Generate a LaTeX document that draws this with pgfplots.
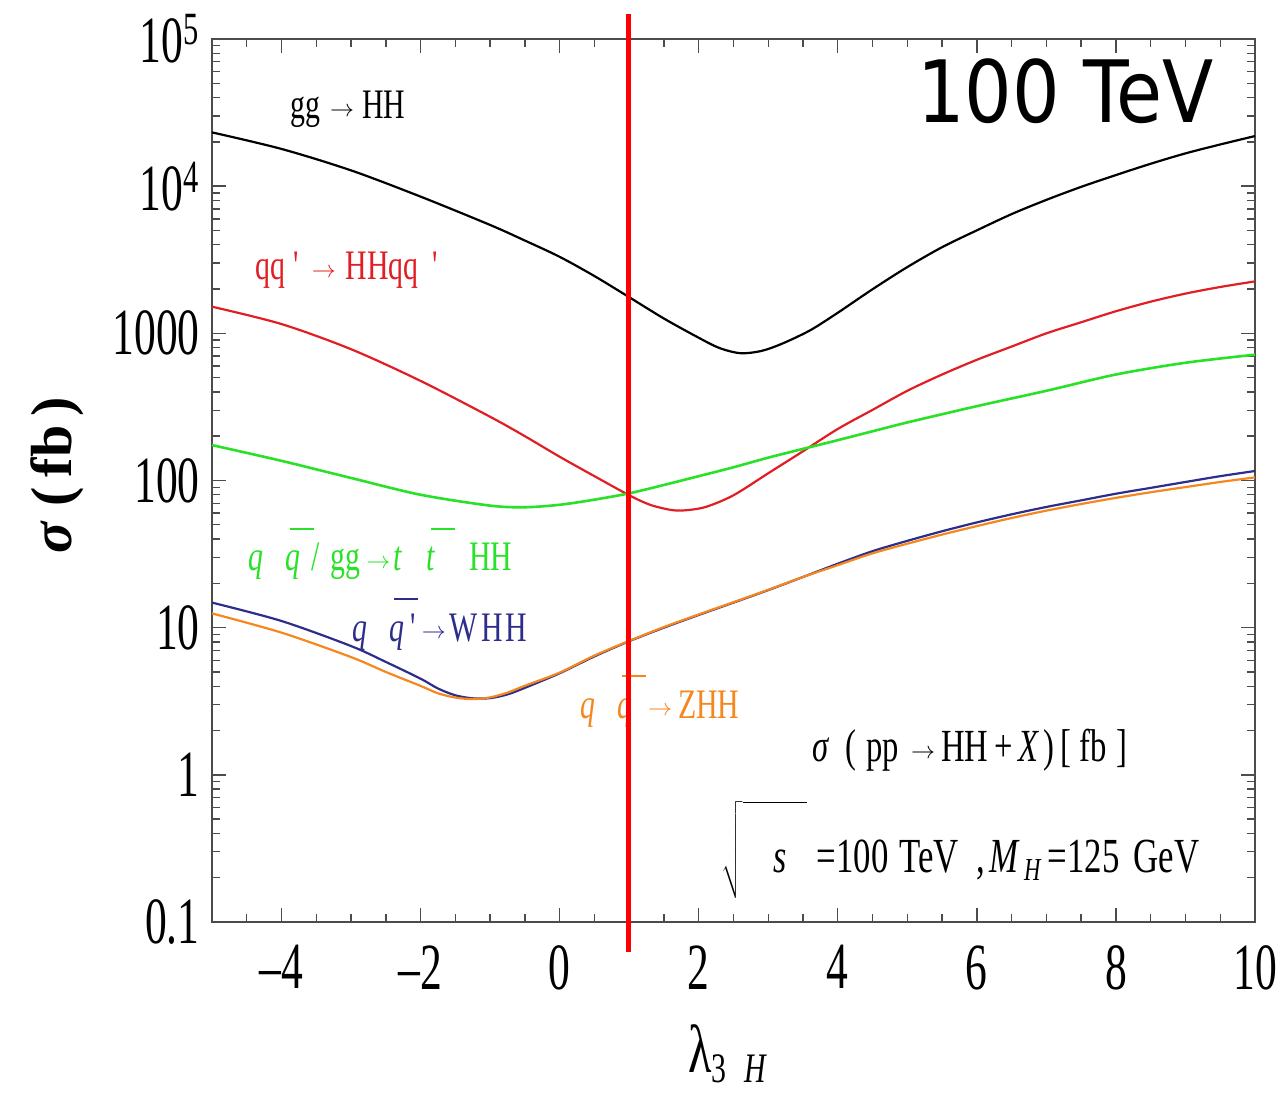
\documentclass[border=0pt]{standalone}
\usepackage{fontspec}
\usepackage{pgfplots}
\usepackage{pgfplotstable}
\pgfplotsset{compat=1.18}
\setmainfont{Liberation Serif}
\newfontfamily\tickfont[FakeStretch=0.66]{Liberation Serif}
\newfontfamily\labfont[FakeStretch=0.71]{Liberation Serif}
\newfontfamily\bigsans[FakeStretch=0.87]{DejaVu Sans}
\definecolor{cred}{RGB}{225,30,35}
\definecolor{cgreen}{RGB}{40,225,40}
\definecolor{cnavy}{RGB}{45,45,140}
\definecolor{corange}{RGB}{245,135,30}
\newcommand\tl[1]{\mbox{\tickfont\fontsize{33}{33}\selectfont #1}}
\newcommand\ob[1]{\leavevmode\rlap{\hspace{2.5pt}\raisebox{20.5pt}{\rule{12pt}{1.2pt}}}#1}
\newcommand\lf{\labfont\fontsize{21}{21}\selectfont}
\newcommand\ar{\raisebox{1.2pt}{\fontsize{12}{12}\selectfont$\rightarrow$}}

\pgfplotstableread{
x y
-5 23200
-4 17900
-3 12800
-2 8490
-1 5450
-0.5 4270
0 3310
0.5 2450
1 1760
1.5 1260
2 933
2.3 794
2.6 733
2.9 759
3.2 851
3.6 1047
4 1380
4.5 1995
5 2820
5.5 3850
6 5010
6.5 6460
7 8070
7.5 9890
8 11900
8.5 14200
9 16700
9.5 19200
10 21900
}\ggHH

\pgfplotstableread{
x y
-5 1517
-4 1156
-3 780
-2 475
-1 271
-0.5 200
0 145
0.5 107
1 79.4
1.3 68.4
1.6 63.1
1.8 62.7
2.1 66.1
2.5 79.4
3.0 112
3.5 158
4 224
4.5 302
5 407
5.5 525
6 661
6.5 813
7 1000
7.5 1189
8 1413
8.5 1641
9 1862
9.5 2065
10 2254
}\HHqq

\pgfplotstableread{
x y
-5 174
-4 136
-3 104
-2 80
-1 67.5
-0.5 65.8
0 68.4
0.5 74.1
1 81.8
1.5 93.3
2 107
2.5 123
3 143
3.5 164
4 188
4.5 216
5 248
6 320
7 407
8 525
9 631
10 716
}\ttHH

\pgfplotstableread{
x y
-5 14.8
-4 11.1
-3 7.50
-2.5 5.85
-2 4.50
-1.75 3.86
-1.5 3.47
-1.25 3.31
-1 3.32
-0.75 3.52
-0.5 3.90
0 4.90
0.5 6.38
1 8.09
1.5 10.0
2 12.2
2.5 14.8
3 18.0
3.5 22.1
4 27.2
4.5 33.1
5 38.9
5.5 45.2
6 51.9
6.5 58.9
7 66.1
7.5 73.3
8 81.3
8.5 89.1
9 97.7
9.5 107
10 116
}\WHH

\pgfplotstableread{
x y
-5 12.5
-4 9.25
-3 6.31
-2.5 5.0
-2 4.02
-1.75 3.58
-1.5 3.35
-1.25 3.27
-1 3.36
-0.75 3.62
-0.5 4.03
0 4.95
0.5 6.46
1 8.13
1.5 10.1
2 12.3
2.5 14.9
3 18.1
3.5 22.1
4 26.6
4.5 32.0
5 37.2
5.5 42.9
6 49.0
6.5 55.6
7 62.4
7.5 69.2
8 76.2
8.5 83.2
9 90.2
9.5 97.7
10 105
}\ZHH

\begin{document}
\begin{tikzpicture}
\begin{axis}[
  scale only axis, width=521.5pt, height=441.5pt,
  ymode=log, xmin=-5, xmax=10, ymin=0.1, ymax=100000,
  clip=false,
  axis line style={draw=black!70, line width=0.8pt},
  tick style={black!70, line width=0.7pt},
  major tick length=7pt, minor tick length=4pt,
  tick align=inside,
  xtick={-4,-2,0,2,4,6,8,10},
  xticklabels={\tl{–4},\tl{–2},\tl{0},\tl{2},\tl{4},\tl{6},\tl{8},\tl{10}},
  minor xtick={-4.5,-3.5,-3,-2.5,-1.5,-1,-0.5,0.5,1,1.5,2.5,3,3.5,4.5,5,5.5,6.5,7,7.5,8.5,9,9.5},
  ytick={0.1,1,10,100,1000,10000,100000},
  yticklabels={\tl{0.1},\tl{1},\tl{10},\tl{100},\tl{1000},\tl{10\textsuperscript{4}},\tl{10\textsuperscript{5}}},
  minor ytick={0.2,0.3,0.4,0.5,0.6,0.7,0.8,0.9,2,3,4,5,6,7,8,9,20,30,40,50,60,70,80,90,200,300,400,500,600,700,800,900,2000,3000,4000,5000,6000,7000,8000,9000,20000,30000,40000,50000,60000,70000,80000,90000},
  xticklabel style={inner sep=0pt, yshift=-11.5pt},
  yticklabel style={inner sep=0pt, xshift=-6pt},
]
\addplot[black, line width=1.1pt, smooth] table[x=x,y=y]{\ggHH};
\addplot[cred, line width=1.1pt, smooth] table[x=x,y=y]{\HHqq};
\addplot[cgreen, line width=1.3pt, smooth] table[x=x,y=y]{\ttHH};
\addplot[cnavy, line width=1.1pt, smooth] table[x=x,y=y]{\WHH};
\addplot[corange, line width=1.1pt, smooth] table[x=x,y=y]{\ZHH};

\node[anchor=base west, inner sep=0] at (rel axis cs:0.0748,0.9094) {\lf gg\hspace{5pt}\ar\hspace{4pt}HH};
\node[anchor=base west, inner sep=0, text=cred] at (rel axis cs:0.0412,0.7271) {\lf qq\hspace{4pt}\textquotesingle\hspace{5.5pt}\ar\hspace{5pt}HHqq\hspace{7pt}\textquotesingle};
\node[anchor=base west, inner sep=0, text=cgreen] at (rel axis cs:0.0345,0.3975) {\lf \textit{q}\hspace{11pt}\ob{\textit{q}}\hspace{5.5pt}/\hspace{5.5pt}gg\hspace{3pt}\ar\hspace{1.5pt}\textit{t}\hspace{12pt}\ob{\textit{t}}\hspace{17pt}HH};
\node[anchor=base west, inner sep=0, text=cnavy] at (rel axis cs:0.1342,0.3182) {\lf \textit{q}\hspace{11pt}\ob{\textit{q}}\hspace{3pt}\textquotesingle\hspace{2pt}\ar\hspace{2pt}W\hspace{2pt}H\hspace{1pt}H};
\node[anchor=base west, inner sep=0, text=corange] at (rel axis cs:0.3528,0.2310) {\lf \textit{q}\hspace{11pt}\ob{\textit{q}}\hspace{8pt}\ar\hspace{3pt}ZHH};
\node[anchor=base west, inner sep=0] at (rel axis cs:0.5753,0.1823) {\labfont\fontsize{23}{23}\selectfont \textit{σ}\hspace{8pt}(\hspace{5pt}pp\hspace{6pt}\ar\hspace{3pt}HH\hspace{3pt}+\hspace{3pt}\textit{X}\hspace{2pt})\hspace{3pt}[\hspace{4pt}fb\hspace{5pt}]};
\node[anchor=base west, inner sep=0] at (rel axis cs:0.4880,0.0555) {\labfont\fontsize{23}{23}\selectfont $\sqrt{\rule[-10pt]{0pt}{42pt}\hspace{15.5pt}\mbox{\labfont\fontsize{24}{24}\selectfont\itshape s}\hspace{10pt}}$\labfont\fontsize{24.5}{24.5}\selectfont\hspace{5pt}=100\hspace{5.5pt}TeV\hspace{9pt},\hspace{2pt}\textit{M}\hspace{2pt}\raisebox{-4pt}{\fontsize{16}{16}\selectfont\textit{H}}\hspace{3pt}=125\hspace{7pt}GeV};
\node[anchor=base west, inner sep=0] at (rel axis cs:0.6759,0.9049) {\bigsans\fontsize{43}{43}\selectfont 100 TeV};
\node[anchor=base west, inner sep=0] at (rel axis cs:0.4564,-0.170) {\labfont\fontsize{34}{34}\selectfont λ\raisebox{-5pt}{\fontsize{21}{21}\selectfont 3\hspace{9pt}\textit{H}}};
\node[rotate=90, anchor=center, inner sep=0] at (rel axis cs:-0.1486,0.5062) {\fontsize{29}{29}\selectfont\bfseries\textit{σ}\ (\,fb\,)};

\addplot[red, line width=2.6pt, forget plot] coordinates {(0.99,0.0625) (0.99,147900)};
\end{axis}
\pgfresetboundingbox
\path[use as bounding box] ([shift={(-106pt,-90pt)}]current axis.south west) rectangle ([shift={(13pt,19.5pt)}]current axis.north east);
\end{tikzpicture}
\end{document}
